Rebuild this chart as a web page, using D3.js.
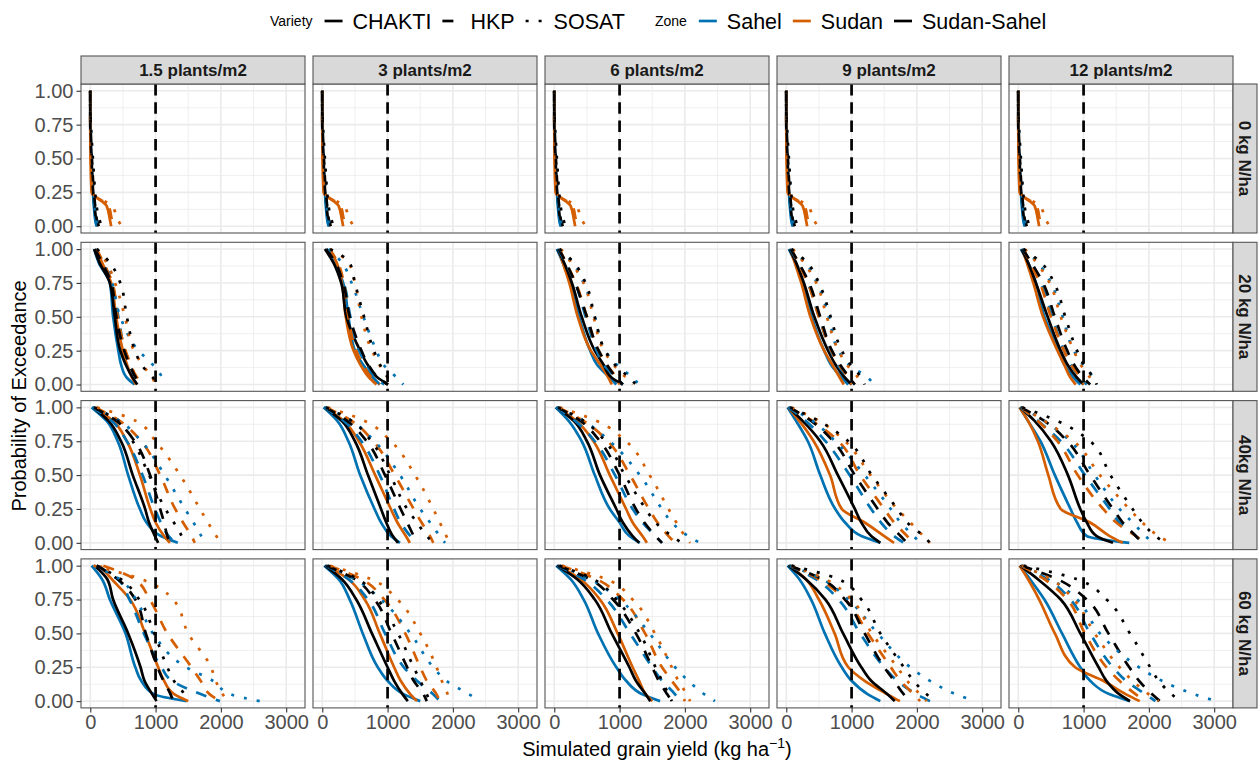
<!DOCTYPE html>
<html><head><meta charset="utf-8">
<script src="https://cdn.jsdelivr.net/npm/d3@7"></script>
<style>body{margin:0;background:#fff} text{font-family:"Liberation Sans",Arial,Helvetica,sans-serif}</style>
</head><body><svg id="chart" width="1259" height="763"></svg>
<script>
// ---------------- data ----------------
const densityLabels = ["1.5 plants/m2","3 plants/m2","6 plants/m2","9 plants/m2","12 plants/m2"];
const nitrogenLabels = ["0 kg N/ha","20 kg N/ha","40kg N/ha","60 kg N/ha"];
const varieties = ["CHAKTI","HKP","SOSAT"];
const zones = ["Sahel","Sudan","Sudan-Sahel"];
const xTicks = [0,1000,2000,3000];
const xMinor = [500,1500,2500];
const yTicks = [0,0.25,0.5,0.75,1];
const yMinor = [0.125,0.375,0.625,0.875];
const thresholdYield = 1000;
// exceedance probability levels at which the yields below are read
const probLevels = [1, 0.9, 0.75, 0.5, 0.25, 0.15, 0.05, 0];
// yields (kg/ha) per density (5) -> curve (zone x variety order:
// Sahel-CHAKTI, Sahel-HKP, Sahel-SOSAT, Sudan-CHAKTI, Sudan-HKP, Sudan-SOSAT, SS-CHAKTI, SS-HKP, SS-SOSAT)
const yieldN0 = [
 [[0,0,0,15,40,55,75,95],[0,0,0,20,45,60,80,100],[0,0,5,30,55,70,90,110],[0,0,0,5,20,250,300,320],[0,0,0,8,25,280,330,360],[0,0,0,10,30,330,420,480],[0,0,0,20,45,65,90,110],[0,0,5,25,55,75,100,130],[0,0,10,40,75,95,140,170]],
 [[0,0,0,15,40,55,75,95],[0,0,0,20,45,60,80,100],[0,0,5,30,55,70,90,110],[0,0,0,5,20,250,300,320],[0,0,0,8,25,280,330,360],[0,0,0,10,30,330,420,480],[0,0,0,20,45,65,90,110],[0,0,5,25,55,75,100,130],[0,0,10,40,75,95,140,170]],
 [[0,0,0,15,40,55,75,95],[0,0,0,20,45,60,80,100],[0,0,5,30,55,70,90,110],[0,0,0,5,20,250,300,320],[0,0,0,8,25,280,330,360],[0,0,0,10,30,330,420,480],[0,0,0,20,45,65,90,110],[0,0,5,25,55,75,100,130],[0,0,10,40,75,95,140,170]],
 [[0,0,0,15,40,55,75,95],[0,0,0,20,45,60,80,100],[0,0,5,30,55,70,90,110],[0,0,0,5,20,250,300,320],[0,0,0,8,25,280,330,360],[0,0,0,10,30,330,420,480],[0,0,0,20,45,65,90,110],[0,0,5,25,55,75,100,130],[0,0,10,40,75,95,140,170]],
 [[0,0,0,15,40,55,75,95],[0,0,0,20,45,60,80,100],[0,0,5,30,55,70,90,110],[0,0,0,5,20,250,300,320],[0,0,0,8,25,280,330,360],[0,0,0,10,30,330,420,480],[0,0,0,20,45,65,90,110],[0,0,5,25,55,75,100,130],[0,0,10,40,75,95,140,170]]
];
const yieldN20 = [
 [[60,130,300,350,430,470,560,680],[80,200,330,430,530,600,700,800],[100,270,340,460,740,950,1100,1120],[90,180,320,395,500,560,640,700],[100,200,340,420,540,620,720,820],[100,250,380,530,670,790,950,1000],[60,140,300,375,460,540,650,720],[70,180,320,400,520,600,700,780],[100,300,460,560,685,780,960,1070]],
 [[60,180,320,400,500,620,780,880],[70,200,330,430,560,680,820,950],[100,300,450,630,830,930,1140,1240],[110,220,300,360,480,580,720,830],[110,240,330,400,520,620,760,880],[120,400,500,600,760,870,1000,1040],[40,170,290,370,580,690,850,1010],[60,200,320,420,600,700,860,1000],[120,420,500,640,790,880,1000,1020]],
 [[40,130,250,380,550,650,850,950],[60,170,320,480,650,750,950,1050],[80,280,450,620,780,950,1200,1300],[60,130,230,360,560,700,830,880],[80,180,330,500,680,800,950,1000],[100,260,450,600,760,900,1100,1200],[50,150,270,420,620,750,880,1050],[70,180,320,500,680,800,950,1050],[80,300,480,620,780,920,1150,1250]],
 [[40,140,260,390,580,680,850,950],[60,180,330,500,680,780,950,1050],[80,290,470,650,800,950,1250,1350],[60,130,230,370,580,700,820,880],[80,180,330,500,690,800,950,1000],[100,270,460,620,800,920,1100,1150],[50,150,270,430,640,750,900,1000],[70,190,350,520,700,820,970,1050],[80,320,500,680,850,980,1150,1200]],
 [[40,150,270,400,620,700,850,950],[60,200,350,520,700,800,950,1050],[80,300,500,680,850,980,1150,1200],[60,130,230,380,600,700,800,880],[80,180,330,500,700,800,950,1000],[100,280,480,650,850,950,1100,1150],[50,150,270,450,650,750,900,1000],[70,200,380,560,750,850,1000,1100],[80,350,550,720,900,1000,1150,1200]]
];
const yieldN40 = [
 [[20,250,420,580,760,860,1080,1340],[30,330,560,800,990,1080,1200,1300],[50,450,780,1140,1450,1580,1700,1750],[50,350,560,760,920,1000,1130,1220],[80,450,780,1070,1300,1420,1550,1600],[100,700,1000,1375,1680,1800,1930,1990],[40,280,470,650,840,900,990,1040],[50,400,680,915,1070,1130,1180,1220],[60,420,650,900,1150,1280,1400,1450]],
 [[20,230,400,580,800,900,1050,1190],[30,330,600,880,1100,1200,1350,1450],[50,450,800,1190,1500,1650,1800,1880],[40,330,560,810,1050,1150,1280,1340],[60,450,780,1110,1400,1520,1650,1700],[80,650,1050,1420,1700,1800,1900,1950],[30,300,500,700,900,980,1080,1160],[50,380,680,960,1200,1300,1400,1450],[60,450,750,1040,1300,1450,1600,1700]],
 [[20,220,420,620,850,1000,1150,1310],[30,320,620,930,1200,1350,1550,1650],[50,450,850,1310,1650,1800,2050,2230],[40,340,600,850,1100,1200,1350,1420],[60,450,820,1160,1450,1580,1750,1850],[80,650,1100,1460,1750,1870,2000,2080],[30,300,500,700,950,1050,1200,1300],[50,400,700,1000,1250,1380,1550,1650],[60,450,780,1080,1400,1550,1800,1950]],
 [[20,150,330,520,750,900,1150,1440],[30,300,600,970,1300,1450,1650,1800],[50,400,750,1200,1600,1750,1950,2050],[30,200,420,670,850,1200,1500,1650],[50,400,800,1130,1500,1650,1850,1950],[80,500,900,1290,1700,1900,2100,2200],[30,250,520,790,1050,1150,1300,1440],[50,380,720,1050,1400,1550,1750,1850],[60,500,950,1310,1700,1850,2100,2200]],
 [[20,150,340,560,800,900,1050,1700],[30,300,650,1020,1400,1550,1800,1900],[50,400,800,1170,1550,1750,1950,2050],[20,150,300,460,650,1100,1400,1600],[40,300,600,910,1300,1500,1800,1950],[60,400,850,1250,1700,1900,2150,2330],[30,250,500,760,950,1050,1200,1450],[40,400,750,1100,1450,1600,1800,1900],[60,600,1100,1410,1750,1900,2100,2250]]
];
const yieldN60 = [
 [[20,180,300,540,690,780,980,1475],[100,420,600,820,1090,1250,1700,1985],[50,450,700,960,1470,1880,2150,2600],[150,330,610,840,1040,1130,1290,1500],[200,680,910,1180,1550,1690,1830,1985],[50,780,1270,1500,1850,1920,2030,2090],[70,260,350,580,770,830,950,1015],[100,420,690,850,1030,1120,1230,1270],[100,470,750,980,1180,1280,1440,1480]],
 [[30,250,420,620,850,1000,1250,1500],[50,400,700,960,1250,1450,1700,1800],[80,500,900,1350,1700,1900,2250,2420],[60,400,650,880,1100,1200,1350,1450],[100,600,950,1270,1500,1600,1750,1800],[120,750,1150,1500,1750,1830,1920,1950],[40,300,520,760,1000,1100,1230,1310],[60,500,800,1060,1300,1400,1550,1600],[80,550,850,1160,1400,1500,1600,1650]],
 [[30,250,450,670,950,1100,1350,1620],[50,450,800,1160,1500,1650,1850,1920],[80,550,1000,1460,1850,2050,2300,2460],[60,400,700,970,1200,1300,1400,1500],[100,650,1050,1390,1650,1800,1950,2000],[120,800,1200,1540,1800,1900,2030,2080],[40,350,620,880,1150,1250,1400,1470],[60,550,900,1250,1500,1600,1730,1800],[80,600,950,1310,1550,1650,1750,1800]],
 [[20,200,380,590,850,1000,1250,1440],[40,450,800,1130,1500,1700,2000,2200],[60,550,950,1400,1900,2200,2600,2890],[40,300,500,740,950,1200,1550,1740],[60,500,900,1250,1600,1750,1950,2050],[80,600,1000,1310,1700,1850,2050,2150],[30,300,600,870,1150,1300,1550,1660],[50,550,900,1200,1500,1650,1800,1900],[80,800,1150,1440,1800,1950,2150,2280]],
 [[20,180,400,670,950,1100,1400,1710],[40,450,800,1100,1450,1650,1950,2100],[60,500,900,1250,1850,2200,2700,3030],[20,150,320,560,870,1300,1650,1860],[40,400,750,1020,1350,1550,1800,1950],[60,500,850,1170,1550,1750,2000,2150],[30,300,650,950,1230,1350,1550,1710],[50,600,1050,1380,1700,1850,2050,2170],[80,900,1350,1710,2020,2150,2350,2480]]
];
const yieldsByNitrogen = [yieldN0, yieldN20, yieldN40, yieldN60];

// ---------------- styles ----------------
const zoneColor = d3.scaleOrdinal().domain(zones).range(["#0072B2","#D55E00","#000000"]);
const varietyDash = d3.scaleOrdinal().domain(varieties).range(["none","11,10","3,10"]);
const font = '"Liberation Sans",Arial,Helvetica,sans-serif';

// ---------------- layout ----------------
const svg = d3.select("#chart");
const panelLeft = 81, panelW = 224, colStep = 232;
const panelTop = 84, panelH = 149, rowStep = 158.3;
const stripH = 28, stripW = 24;

const x = d3.scaleLinear().domain([-142, 3288]).range([0, panelW]);
const y = d3.scaleLinear().domain([-0.05, 1.05]).range([panelH, 0]);

const line = d3.line()
  .x(d => x(d.yield))
  .y(d => y(d.p))
  .curve(d3.curveMonotoneY);

svg.append("defs").append("clipPath").attr("id","pclip")
  .append("rect").attr("width", panelW).attr("height", panelH);

nitrogenLabels.forEach((nl, r) => {
  densityLabels.forEach((dl, c) => {
    const g = svg.append("g")
      .attr("transform", `translate(${panelLeft + c*colStep},${panelTop + r*rowStep})`);
    g.append("rect").attr("width", panelW).attr("height", panelH).attr("fill", "#fff");
    // grid
    const grid = g.append("g");
    xMinor.forEach(v => grid.append("line").attr("x1", x(v)).attr("x2", x(v)).attr("y1",0).attr("y2",panelH)
      .attr("stroke","#ebebeb").attr("stroke-width",0.8));
    yMinor.forEach(v => grid.append("line").attr("y1", y(v)).attr("y2", y(v)).attr("x1",0).attr("x2",panelW)
      .attr("stroke","#ebebeb").attr("stroke-width",0.8));
    xTicks.forEach(v => grid.append("line").attr("x1", x(v)).attr("x2", x(v)).attr("y1",0).attr("y2",panelH)
      .attr("stroke","#ebebeb").attr("stroke-width",1.6));
    yTicks.forEach(v => grid.append("line").attr("y1", y(v)).attr("y2", y(v)).attr("x1",0).attr("x2",panelW)
      .attr("stroke","#ebebeb").attr("stroke-width",1.6));

    // curves (drawn variety by variety, zones within)
    const curves = yieldsByNitrogen[r][c];
    const cg = g.append("g").attr("clip-path","url(#pclip)");
    varieties.forEach((v, vi) => {
      zones.forEach((z, zi) => {
        const vals = curves[zi*3 + vi];
        const pts = probLevels.map((p, i) => ({p, yield: vals[i]}));
        cg.append("path").datum(pts)
          .attr("d", line)
          .attr("fill","none")
          .attr("stroke", zoneColor(z))
          .attr("stroke-width", 2.7)
          .attr("stroke-dasharray", varietyDash(v))
          .attr("stroke-linejoin","round");
      });
    });
    // threshold line
    cg.append("line").attr("x1", x(thresholdYield)).attr("x2", x(thresholdYield))
      .attr("y1", 0).attr("y2", panelH)
      .attr("stroke","#000").attr("stroke-width",2.7).attr("stroke-dasharray","11.5,6.8");
    // border
    g.append("rect").attr("width", panelW).attr("height", panelH)
      .attr("fill","none").attr("stroke","#555").attr("stroke-width",1.1);

    // strips
    if (r === 0) {
      const s = g.append("g").attr("transform", `translate(0,${-stripH})`);
      s.append("rect").attr("width", panelW).attr("height", stripH)
        .attr("fill","#d9d9d9").attr("stroke","#555").attr("stroke-width",1.1);
      s.append("text").attr("x", panelW/2).attr("y", stripH/2).attr("dy","0.36em")
        .attr("text-anchor","middle").attr("font-size",17).attr("font-weight","bold")
        .attr("fill","#1a1a1a").text(dl);
    }
    if (c === densityLabels.length - 1) {
      const s = g.append("g").attr("transform", `translate(${panelW},0)`);
      s.append("rect").attr("width", stripW).attr("height", panelH)
        .attr("fill","#d9d9d9").attr("stroke","#555").attr("stroke-width",1.1);
      s.append("text").attr("transform", `translate(${stripW/2},${panelH/2}) rotate(90)`)
        .attr("dy","0.36em").attr("text-anchor","middle").attr("font-size",17).attr("font-weight","bold")
        .attr("fill","#1a1a1a").text(nl);
    }
    // axes
    if (c === 0) {
      const ax = g.append("g").call(d3.axisLeft(y).tickValues(yTicks).tickFormat(d3.format(".2f")).tickSize(4.5).tickPadding(3));
      ax.select(".domain").remove();
      ax.selectAll("line").attr("stroke","#333").attr("stroke-width",1.1);
      ax.selectAll("text").attr("font-size",20).attr("fill","#4d4d4d").attr("font-family",font);
    }
    if (r === nitrogenLabels.length - 1) {
      const ax = g.append("g").attr("transform", `translate(0,${panelH})`)
        .call(d3.axisBottom(x).tickValues(xTicks).tickFormat(d3.format("d")).tickSize(4.5).tickPadding(2));
      ax.select(".domain").remove();
      ax.selectAll("line").attr("stroke","#333").attr("stroke-width",1.1);
      ax.selectAll("text").attr("font-size",20).attr("fill","#4d4d4d").attr("font-family",font);
    }
  });
});

// axis titles
const plotCenterX = panelLeft + (4*colStep + panelW)/2;
const plotCenterY = panelTop + (3*rowStep + panelH)/2;
const xt = svg.append("text").attr("x", plotCenterX).attr("y", 756).attr("text-anchor","middle")
  .attr("font-size",20).attr("fill","#000");
xt.append("tspan").text("Simulated grain yield (kg ha");
xt.append("tspan").attr("dy",-8).attr("font-size",14).text("\u22121");
xt.append("tspan").attr("dy",8).text(")");
svg.append("text").attr("transform", `translate(26,${plotCenterY}) rotate(-90)`)
  .attr("text-anchor","middle").attr("font-size",20).attr("fill","#000").text("Probability of Exceedance");

// legend
const leg = svg.append("g").attr("transform","translate(0,21)");
let cx = 270;
function legendGroup(title, items, keyStyle) {
  const t = leg.append("text").attr("x", cx).attr("dy","0.36em").attr("font-size",14).attr("fill","#000").text(title);
  cx += t.node().getComputedTextLength() + 12;
  items.forEach(it => {
    const st = keyStyle(it);
    leg.append("line").attr("x1", cx).attr("x2", cx + 18).attr("stroke", st.color)
      .attr("stroke-width",2.7).attr("stroke-dasharray", st.dash);
    cx += 28;
    const lt = leg.append("text").attr("x", cx).attr("dy","0.36em").attr("font-size",21.5).attr("fill","#000").text(it);
    cx += lt.node().getComputedTextLength() + 11;
  });
}
legendGroup("Variety", varieties, v => ({color:"#000", dash: varietyDash(v)}));
cx += 19;
legendGroup("Zone", zones, z => ({color: zoneColor(z), dash: "none"}));
</script>
</body></html>
